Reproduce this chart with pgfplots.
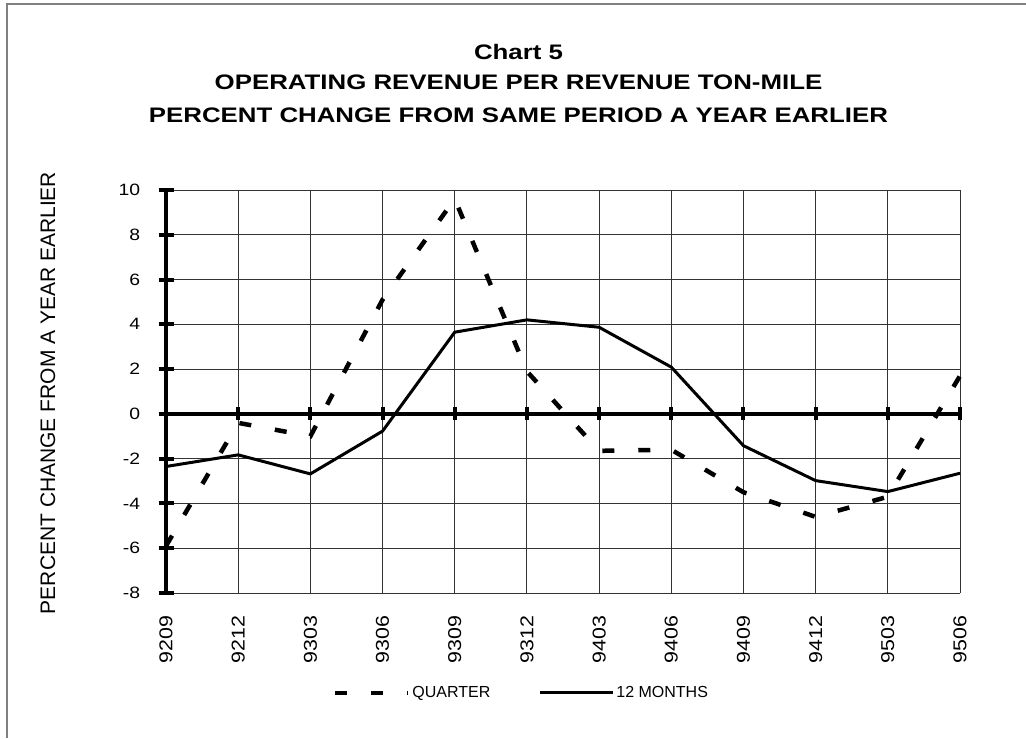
\documentclass[border=0pt]{standalone}
\usepackage{pgfplots}
\pgfplotsset{compat=1.18}
\usepackage{fontspec}
\setmainfont{Liberation Sans}
\newfontfamily\titlefont{Liberation Sans}[FakeStretch=1.23]
\newfontfamily\yfont{Liberation Sans}[FakeStretch=1.18]
\newfontfamily\xfont{Liberation Sans}[FakeStretch=1.15]
\begin{document}
\begin{tikzpicture}
\useasboundingbox (0,0) rectangle (513pt,-369pt);
\draw[gray, line width=1pt] (3.5pt,-369pt) -- (3.5pt,-2pt) -- (513pt,-2pt);
\node[anchor=base, font=\titlefont\bfseries\fontsize{10.5}{12}\selectfont] at (259.25pt,-30pt) {Chart 5};
\node[anchor=base, font=\titlefont\bfseries\fontsize{10.5}{12}\selectfont] at (259.25pt,-45pt) {OPERATING REVENUE PER REVENUE TON-MILE};
\node[anchor=base, font=\titlefont\bfseries\fontsize{10.5}{12}\selectfont] at (259.25pt,-61pt) {PERCENT CHANGE FROM SAME PERIOD A YEAR EARLIER};
\node[rotate=90, inner sep=0pt, font=\fontsize{10.5}{12}\selectfont] at (24pt,-196.5pt) {PERCENT CHANGE FROM A YEAR EARLIER};
\begin{axis}[
  at={(83pt,-296.5pt)}, anchor=south west,
  width=397pt, height=201.5pt, scale only axis,
  xmin=0, xmax=11, ymin=-8, ymax=10,
  xtick={0,...,11},
  xticklabels={9209,9212,9303,9306,9309,9312,9403,9406,9409,9412,9503,9506},
  ytick={-8,-6,...,10},
  axis line style={draw=none},
  tick pos=left,
  grid=major,
  grid style={black!80, line width=0.5pt},
  xtick style={draw=none},
  ytick style={black, line width=2pt},
  tick align=center,
  major tick length=7.5pt,
  /pgf/number format/assume math mode=true,
  yticklabel style={font=\yfont\fontsize{8.2}{10}\selectfont, anchor=east, inner sep=0pt},
  yticklabel shift=9pt,
  xticklabel style={font=\xfont\fontsize{9.3}{11}\selectfont, rotate=90, anchor=east, inner sep=0pt},
  xticklabel shift=7.5pt,
  clip=false,
  legend style={at={(0.2103,-0.248)}, anchor=west, draw=none, fill=none,
    inner sep=0pt, outer sep=0pt, legend columns=2,
    font=\fontsize{8}{10}\selectfont,
    nodes={inner sep=1pt},
    /tikz/every even column/.append style={column sep=23pt}},
  legend image code/.code={\draw[#1] (0pt,0pt) -- (36.5pt,0pt);},
]
\addplot[forget plot, black, line width=2pt] coordinates {(0,-8) (0,10)};
\addplot[forget plot, black, line width=2pt] coordinates {(0,0) (11,0)};
\addplot[forget plot, only marks, mark=|, mark size=3.25pt, mark options={line width=2pt, black}] coordinates {(1,0) (2,0) (3,0) (4,0) (5,0) (6,0) (7,0) (8,0) (9,0) (10,0) (11,0)};
\addplot[black, line width=2.25pt, dash pattern=on 6pt off 12pt] coordinates {
 (0,-5.9) (1,-0.4) (2,-1.0) (3,5.1) (4,9.6) (5,1.9) (6,-1.65) (7,-1.6) (8,-3.5) (9,-4.6) (10,-3.7) (11,1.7)};
\addlegendentry{QUARTER}
\addplot[black, line width=1.5pt] coordinates {
 (0,-2.35) (1,-1.83) (2,-2.68) (3,-0.77) (4,3.65) (5,4.2) (6,3.87) (7,2.09) (8,-1.42) (9,-2.98) (10,-3.47) (11,-2.65)};
\addlegendentry{12 MONTHS}
\end{axis}
\end{tikzpicture}
\end{document}
